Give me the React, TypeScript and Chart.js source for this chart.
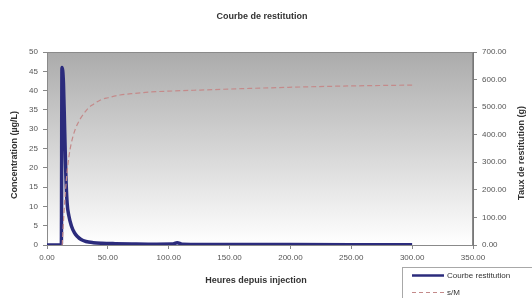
import React, { useEffect, useRef } from "react";
import { Chart, registerables } from "chart.js";

Chart.register(...registerables);

const chartTitle = "Courbe de restitution";
const xTitle = "Heures depuis injection";
const yLeftTitle = "Concentration (µg/L)";
const yRightTitle = "Taux de restitution (g)";
const seriesNames = ["Courbe restitution", "s/M"];

const xTicksMax = 350;
const leftMax = 50;
const rightMax = 700;

const concHours = [0, 11.8, 12.3, 13.5, 14.5, 15.5, 16.5, 18, 20, 22.5, 25, 28, 32, 38, 45, 56, 70, 90, 103, 107, 111, 130, 160, 200, 250, 300];
const concValues = [0, 0, 46, 42, 30, 18, 11, 7.5, 5, 3.2, 2.2, 1.4, 0.9, 0.6, 0.45, 0.35, 0.28, 0.22, 0.25, 0.6, 0.22, 0.15, 0.12, 0.1, 0.08, 0.06];

const smHours = [12.5, 14, 16, 18, 20, 23, 27, 30, 34, 38, 44, 50, 60, 72, 85, 100, 126, 160, 208, 250, 300];
const smValues = [0, 120, 240, 320, 370, 417, 455, 475, 497, 510, 526, 534, 544, 550, 555, 558, 562, 567, 573, 577, 580];

const FONT = "'Liberation Sans', Arial, sans-serif";

export default function App() {
  const ref = useRef<HTMLCanvasElement | null>(null);

  useEffect(() => {
    const canvas = ref.current;
    if (!canvas) return;

    const bgPlugin = {
      id: "bg",
      beforeDraw(chart: any) {
        const { ctx, chartArea: a } = chart;
        ctx.save();
        const g = ctx.createLinearGradient(0, a.top, 0, a.bottom);
        g.addColorStop(0, "#ababab");
        g.addColorStop(1, "#ffffff");
        ctx.fillStyle = g;
        ctx.fillRect(a.left, a.top, a.right - a.left, a.bottom - a.top);
        ctx.restore();
      },
      beforeDatasetsDraw(chart: any) {
        const { ctx, chartArea: a } = chart;
        ctx.save();
        ctx.strokeStyle = "#8a8a8a";
        ctx.lineWidth = 1;
        ctx.strokeRect(a.left + 0.5, a.top + 0.5, a.right - a.left - 1, a.bottom - a.top);
        ctx.restore();
      },
      afterDraw(chart: any) {
        const { ctx } = chart;
        ctx.save();
        ctx.fillStyle = "#333";
        ctx.textAlign = "center";
        ctx.textBaseline = "middle";
        ctx.font = `bold 9px ${FONT}`;
        ctx.fillText(chartTitle, 262, 17);
        ctx.fillText(xTitle, 256, 281);
        ctx.save();
        ctx.translate(15, 155);
        ctx.rotate(-Math.PI / 2);
        ctx.fillText(yLeftTitle, 0, 0);
        ctx.restore();
        ctx.save();
        ctx.translate(522, 153);
        ctx.rotate(-Math.PI / 2);
        ctx.fillText(yRightTitle, 0, 0);
        ctx.restore();

        // legend
        ctx.fillStyle = "#ffffff";
        ctx.fillRect(402, 267, 140, 34);
        ctx.strokeStyle = "#a8a8a8";
        ctx.lineWidth = 1;
        ctx.strokeRect(402.5, 267.5, 140, 34);
        ctx.strokeStyle = "#2b2b7c";
        ctx.lineWidth = 2.5;
        ctx.beginPath();
        ctx.moveTo(412, 275.5);
        ctx.lineTo(444, 275.5);
        ctx.stroke();
        ctx.strokeStyle = "#c48a8a";
        ctx.lineWidth = 1.2;
        ctx.setLineDash([4, 3]);
        ctx.beginPath();
        ctx.moveTo(412, 292.5);
        ctx.lineTo(444, 292.5);
        ctx.stroke();
        ctx.setLineDash([]);
        ctx.fillStyle = "#333";
        ctx.textAlign = "left";
        ctx.font = `8px ${FONT}`;
        ctx.fillText(seriesNames[0], 447, 276);
        ctx.fillText(seriesNames[1], 447, 293);
        ctx.restore();
      },
    };

    const tickFont = { family: FONT, size: 8 };

    const chart = new Chart(canvas, {
      type: "line",
      data: {
        datasets: [
          {
            label: seriesNames[1],
            data: smHours.map((h, i) => ({ x: h, y: smValues[i] })),
            yAxisID: "y1",
            borderColor: "#c48a8a",
            borderWidth: 1.2,
            borderDash: [5, 3],
            pointRadius: 0,
            cubicInterpolationMode: "monotone",
            fill: false,
          },
          {
            label: seriesNames[0],
            data: concHours.map((h, i) => ({ x: h, y: concValues[i] })),
            yAxisID: "y",
            borderColor: "#2b2b7c",
            borderWidth: 3.5,
            pointRadius: 0,
            cubicInterpolationMode: "monotone",
            fill: false,
          },
        ],
      },
      options: {
        responsive: false,
        animation: false,
        devicePixelRatio: 1,
        layout: { padding: { top: 52, left: 0, right: 0, bottom: 0 } },
        plugins: {
          legend: { display: false },
          title: { display: false },
          tooltip: { enabled: false },
        },
        scales: {
          x: {
            type: "linear",
            min: 0,
            max: xTicksMax,
            ticks: {
              stepSize: 50,
              font: tickFont,
              color: "#555",
              padding: 4,
              maxRotation: 0,
              callback: (v: any) => Number(v).toFixed(2),
            },
            grid: { drawOnChartArea: false, tickLength: 4, color: "#888" },
            border: { color: "#777" },
            afterFit: (s: any) => {
              s.height = 53;
            },
          },
          y: {
            type: "linear",
            position: "left",
            min: 0,
            max: leftMax,
            ticks: { stepSize: 5, font: tickFont, color: "#555", padding: 5 },
            grid: { drawOnChartArea: false, tickLength: 4, color: "#888" },
            border: { color: "#777" },
            afterFit: (s: any) => {
              s.width = 47;
            },
          },
          y1: {
            type: "linear",
            position: "right",
            min: 0,
            max: rightMax,
            ticks: {
              stepSize: 100,
              font: tickFont,
              color: "#555",
              padding: 5,
              callback: (v: any) => Number(v).toFixed(2),
            },
            grid: { drawOnChartArea: false, tickLength: 4, color: "#888" },
            border: { color: "#777" },
            afterFit: (s: any) => {
              s.width = 59;
            },
          },
        },
      },
      plugins: [bgPlugin],
    } as any);

    return () => chart.destroy();
  }, []);

  return (
    <div style={{ position: "fixed", left: 0, top: 0, width: 532, height: 298, background: "#fff" }}>
      <canvas ref={ref} width={532} height={298} style={{ display: "block" }} />
    </div>
  );
}
